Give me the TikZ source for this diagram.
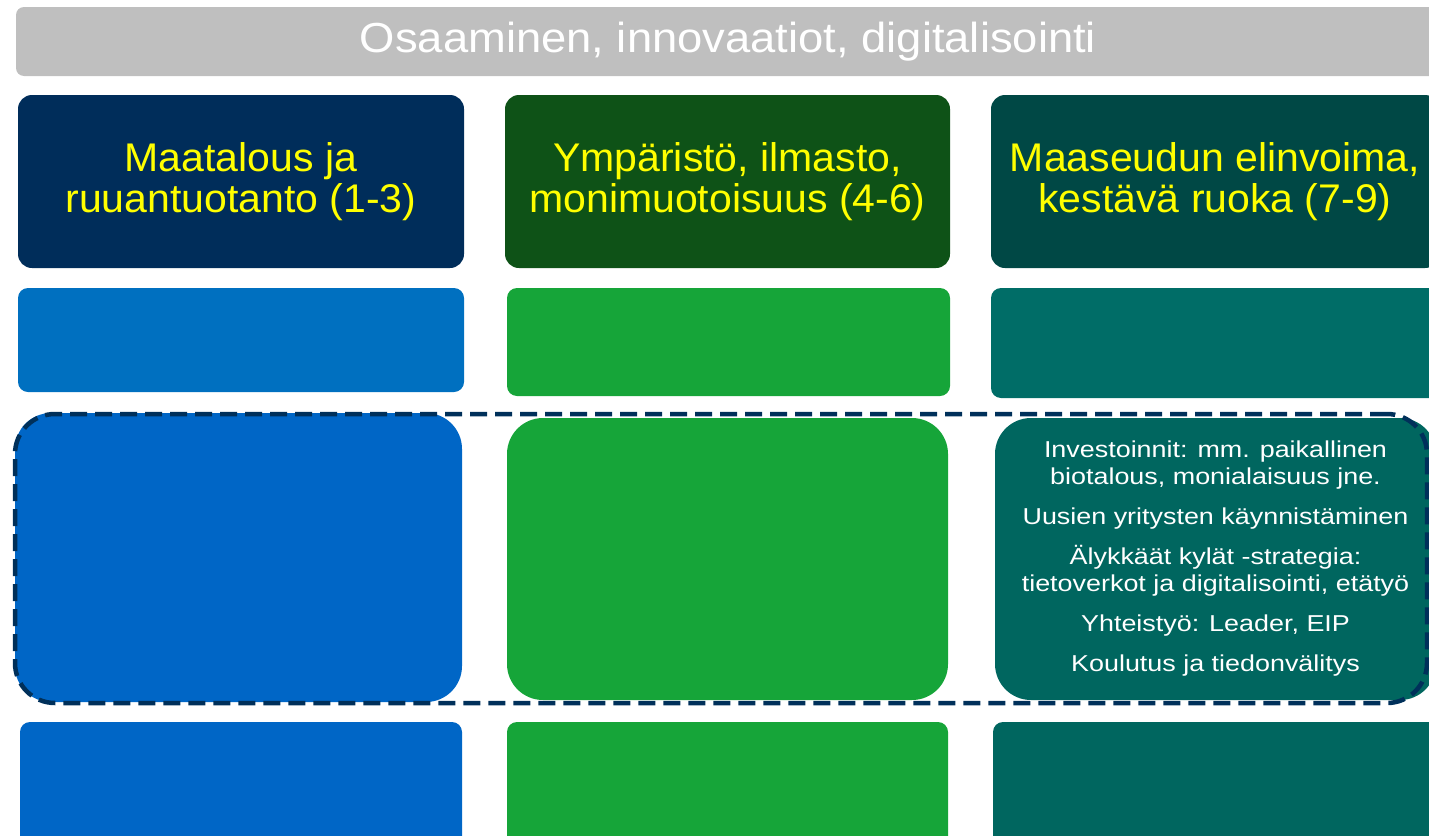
\documentclass[tikz,border=0pt]{standalone}
\usepackage{fontspec}
\setmainfont{Liberation Sans}
\newfontfamily\titlefont[FakeStretch=1.08]{Liberation Sans}
\newfontfamily\headfont[FakeStretch=1.025]{Liberation Sans}
\newfontfamily\bodyfont[FakeStretch=1.17]{Liberation Sans}
\definecolor{bargrey}{HTML}{BFBFBF}
\definecolor{headA}{HTML}{002D5A}
\definecolor{headB}{HTML}{0E5217}
\definecolor{headC}{HTML}{004845}
\definecolor{midA}{HTML}{0070C0}
\definecolor{midB}{HTML}{16A539}
\definecolor{midC}{HTML}{006D67}
\definecolor{lowA}{HTML}{0066C6}
\definecolor{lowB}{HTML}{16A539}
\definecolor{lowC}{HTML}{00665F}
\definecolor{dashnavy}{HTML}{00305A}
\definecolor{headyellow}{HTML}{FFFF00}
\begin{document}
\begin{tikzpicture}[x=1pt,y=-1pt,
  blk/.style={draw=none, inner sep=0pt, outer sep=0pt, anchor=north west, align=center},
  headbox/.style={blk, rounded corners=14pt, text=headyellow, font=\headfont\fontsize{40}{41}\selectfont},
  midbox/.style={blk, rounded corners=10pt},
  bigbox/.style={blk, rounded corners=36pt},
  lowbox/.style={blk, rounded corners=10pt},
  bodytext/.style={text=white, font=\bodyfont\fontsize{23}{27}\selectfont},
  groupline/.style={draw=dashnavy, line width=4.5pt, dash pattern=on 17pt off 8pt, rounded corners=40pt}
]
\useasboundingbox (0,0) rectangle (1429,835);
\clip (0,0) rectangle (1429,835);

% top bar
\node[blk, fill=bargrey, rounded corners=8pt, minimum width=1424pt, minimum height=69pt,
      text=white, font=\titlefont\fontsize{42}{44}\selectfont] (bar) at (16,7) {Osaaminen, innovaatiot, digitalisointi};

% header row
\node[headbox, fill=headA, minimum width=446pt, minimum height=173pt] (hA) at (18,95) {Maatalous ja\\ruuantuotanto (1-3)};
\node[headbox, fill=headB, minimum width=445pt, minimum height=173pt] (hB) at (505,95) {Ympäristö, ilmasto,\\monimuotoisuus (4-6)};
\node[headbox, fill=headC, minimum width=448pt, minimum height=173pt] (hC) at (991,95) {Maaseudun elinvoima,\\kestävä ruoka (7-9)};

% second row
\node[midbox, fill=midA, minimum width=446pt, minimum height=104pt] (mA) at (18,288) {};
\node[midbox, fill=midB, minimum width=443pt, minimum height=108pt] (mB) at (507,288) {};
\node[midbox, fill=midC, minimum width=448pt, minimum height=110pt] (mC) at (991,288) {};

% third row
\node[bigbox, fill=lowA, minimum width=447pt, minimum height=289pt] (bA) at (15,413) {};
\node[bigbox, fill=lowB, minimum width=441pt, minimum height=282pt] (bB) at (507,418) {};
\node[bigbox, fill=lowC, minimum width=441pt, minimum height=282pt, bodytext] (bC) at (995,418)
  {Investoinnit: mm. paikallinen\\biotalous, monialaisuus jne.\\[13pt]
   Uusien yritysten käynnistäminen\\[13pt]
   Älykkäät kylät -strategia:\\tietoverkot ja digitalisointi, etätyö\\[13pt]
   Yhteistyö: Leader, EIP\\[13pt]
   Koulutus ja tiedonvälitys};

% dashed group outline
\node[groupline, inner sep=0pt, outer sep=0pt, anchor=north west, minimum width=1412pt, minimum height=289pt] (grp) at (15,414) {};

% fourth row
\node[lowbox, fill=lowA, minimum width=442pt, minimum height=130pt] (lA) at (20,722) {};
\node[lowbox, fill=lowB, minimum width=441pt, minimum height=130pt] (lB) at (507,722) {};
\node[lowbox, fill=lowC, minimum width=446pt, minimum height=130pt] (lC) at (993,722) {};
\end{tikzpicture}
\end{document}
